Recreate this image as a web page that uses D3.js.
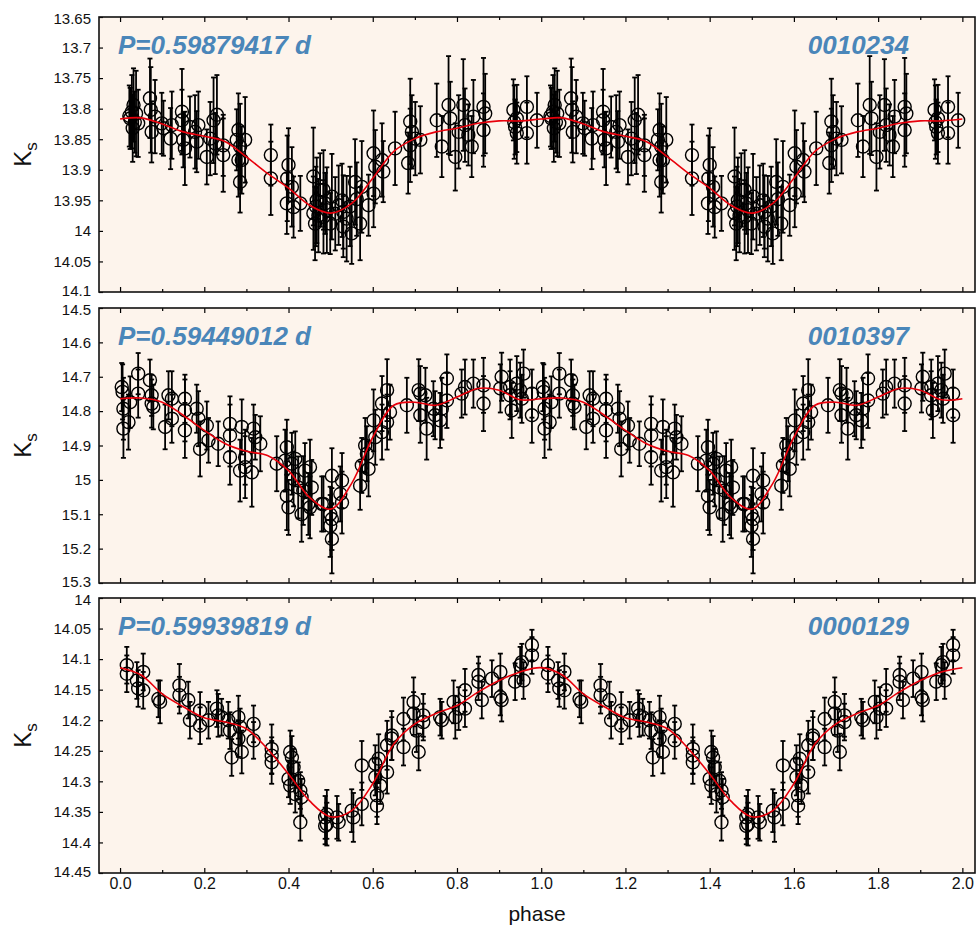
<!DOCTYPE html>
<html>
<head>
<meta charset="utf-8">
<script src="https://cdn.jsdelivr.net/npm/d3@7"></script>
<style>
  body { margin: 0; background: #fff; }
  svg text { font-family: "Liberation Sans", Arial, Helvetica, sans-serif; }
</style>
</head>
<body>
<div id="chart"></div>
<script>
// ---- data: [phase, Ks, error] for one cycle, folded copy drawn at phase+1 ----
var star1Name = '0010234', star1Period = 'P=0.59879417 d';
var star1Points = [
  [0.022,13.812,0.05],[0.024,13.816,0.05],[0.028,13.805,0.06],[0.030,13.832,0.055],[0.032,13.794,0.06],[0.035,13.822,0.05],
  [0.038,13.808,0.07],[0.043,13.824,0.055],[0.071,13.783,0.065],[0.073,13.802,0.07],[0.075,13.838,0.05],[0.083,13.813,0.06],
  [0.099,13.824,0.05],[0.103,13.832,0.045],[0.120,13.849,0.05],[0.123,13.827,0.055],[0.147,13.805,0.07],[0.147,13.819,0.05],
  [0.150,13.851,0.045],[0.154,13.865,0.06],[0.166,13.830,0.05],[0.178,13.838,0.06],[0.182,13.854,0.05],[0.186,13.827,0.055],
  [0.206,13.879,0.045],[0.214,13.849,0.06],[0.222,13.819,0.07],[0.226,13.857,0.05],[0.230,13.810,0.065],[0.245,13.860,0.05],
  [0.245,13.876,0.06],[0.277,13.851,0.05],[0.281,13.835,0.06],[0.281,13.884,0.06],[0.285,13.862,0.07],[0.285,13.920,0.05],
  [0.289,13.884,0.055],[0.297,13.851,0.07],[0.358,13.876,0.05],[0.358,13.914,0.06],[0.396,13.955,0.05],[0.397,13.914,0.07],
  [0.400,13.892,0.06],[0.408,13.928,0.065],[0.412,13.961,0.05],[0.428,13.955,0.045],[0.459,13.911,0.08],[0.459,13.971,0.06],
  [0.463,13.988,0.06],[0.465,13.960,0.065],[0.467,13.950,0.07],[0.471,13.975,0.06],[0.475,13.933,0.06],[0.483,13.933,0.065],
  [0.483,13.977,0.06],[0.487,13.955,0.05],[0.491,13.966,0.07],[0.499,13.988,0.05],[0.503,13.944,0.07],[0.511,13.972,0.06],
  [0.519,13.958,0.065],[0.527,13.950,0.06],[0.530,13.969,0.06],[0.530,13.993,0.05],[0.538,13.980,0.07],[0.546,13.960,0.065],
  [0.550,14.004,0.05],[0.558,13.920,0.07],[0.562,13.948,0.06],[0.570,13.988,0.06],[0.574,13.928,0.075],[0.590,13.958,0.05],
  [0.602,13.873,0.07],[0.602,13.939,0.055],[0.606,13.895,0.06],[0.622,13.884,0.06],[0.625,13.903,0.05],[0.653,13.865,0.06],
  [0.684,13.889,0.05],[0.689,13.821,0.07],[0.689,13.860,0.06],[0.693,13.838,0.06],[0.701,13.849,0.06],[0.713,13.851,0.055],
  [0.752,13.819,0.06],[0.764,13.862,0.05],[0.780,13.794,0.08],[0.784,13.816,0.06],[0.796,13.879,0.055],[0.804,13.838,0.06],
  [0.815,13.794,0.075],[0.819,13.827,0.06],[0.827,13.843,0.05],[0.835,13.862,0.05],[0.839,13.813,0.06],[0.863,13.797,0.08],
  [0.863,13.835,0.06],[0.867,13.808,0.065],[0.934,13.802,0.05],[0.936,13.822,0.06],[0.938,13.830,0.045],[0.942,13.816,0.055],
  [0.942,13.840,0.05],[0.966,13.797,0.05],[0.966,13.840,0.05],[0.990,13.819,0.045]
];

var star2Name = '0010397', star2Period = 'P=0.59449012 d';
var star2Points = [
  [0.004,14.730,0.07],[0.006,14.744,0.08],[0.008,14.793,0.09],[0.008,14.851,0.085],[0.020,14.832,0.08],[0.024,14.774,0.075],
  [0.043,14.691,0.06],[0.043,14.749,0.07],[0.071,14.710,0.06],[0.075,14.754,0.06],[0.075,14.778,0.07],[0.079,14.788,0.065],
  [0.107,14.846,0.065],[0.115,14.754,0.07],[0.123,14.764,0.08],[0.123,14.822,0.07],[0.154,14.764,0.07],[0.154,14.798,0.09],
  [0.154,14.856,0.08],[0.182,14.793,0.07],[0.186,14.822,0.08],[0.190,14.910,0.08],[0.206,14.842,0.07],[0.210,14.885,0.065],
  [0.233,14.895,0.065],[0.261,14.837,0.08],[0.261,14.871,0.09],[0.261,14.934,0.08],[0.285,14.973,0.09],[0.289,14.846,0.08],
  [0.297,14.934,0.08],[0.297,14.963,0.09],[0.313,14.978,0.1],[0.317,14.851,0.07],[0.321,14.876,0.065],[0.333,14.895,0.08],
  [0.372,14.953,0.08],[0.392,14.944,0.09],[0.396,14.905,0.08],[0.396,15.046,0.1],[0.400,15.080,0.08],[0.408,14.953,0.09],
  [0.412,14.997,0.08],[0.416,14.939,0.08],[0.423,15.022,0.09],[0.431,15.100,0.08],[0.435,15.031,0.1],[0.439,14.973,0.08],
  [0.447,15.070,0.09],[0.451,14.963,0.08],[0.451,15.080,0.09],[0.455,15.022,0.08],[0.479,15.070,0.08],[0.483,15.070,0.08],
  [0.499,15.100,0.08],[0.499,15.134,0.09],[0.503,14.988,0.08],[0.503,15.114,0.09],[0.503,15.172,0.1],[0.523,15.041,0.08],
  [0.527,15.002,0.08],[0.527,15.066,0.09],[0.570,15.017,0.07],[0.574,14.958,0.08],[0.582,14.900,0.08],[0.586,14.924,0.08],
  [0.590,14.968,0.08],[0.602,14.827,0.09],[0.606,14.876,0.08],[0.622,14.778,0.08],[0.622,14.861,0.08],[0.634,14.739,0.09],
  [0.634,14.832,0.08],[0.641,14.803,0.08],[0.681,14.783,0.08],[0.709,14.739,0.09],[0.713,14.749,0.08],[0.713,14.812,0.08],
  [0.725,14.754,0.08],[0.728,14.851,0.09],[0.744,14.793,0.08],[0.748,14.812,0.07],[0.760,14.827,0.08],[0.764,14.793,0.09],
  [0.776,14.705,0.07],[0.776,14.769,0.08],[0.811,14.749,0.07],[0.819,14.730,0.08],[0.839,14.720,0.07],[0.863,14.725,0.08],
  [0.863,14.778,0.08],[0.903,14.734,0.07],[0.906,14.700,0.07],[0.926,14.730,0.08],[0.926,14.754,0.07],[0.930,14.798,0.08],
  [0.942,14.720,0.08],[0.950,14.739,0.08],[0.954,14.764,0.07],[0.958,14.691,0.07],[0.978,14.749,0.07],[0.978,14.812,0.08]
];

var star3Name = '0000129', star3Period = 'P=0.59939819 d';
var star3Points = [
  [0.016,14.110,0.03],[0.016,14.124,0.03],[0.040,14.135,0.03],[0.043,14.148,0.03],[0.055,14.121,0.03],[0.055,14.151,0.03],
  [0.091,14.165,0.03],[0.095,14.170,0.035],[0.141,14.143,0.035],[0.141,14.159,0.03],[0.162,14.167,0.03],[0.166,14.200,0.03],
  [0.190,14.184,0.03],[0.190,14.209,0.03],[0.210,14.200,0.03],[0.230,14.181,0.03],[0.233,14.192,0.035],[0.241,14.195,0.03],
  [0.257,14.200,0.03],[0.261,14.217,0.03],[0.265,14.261,0.03],[0.281,14.195,0.035],[0.281,14.230,0.03],[0.285,14.211,0.03],
  [0.289,14.252,0.035],[0.317,14.206,0.03],[0.317,14.233,0.03],[0.360,14.247,0.04],[0.360,14.258,0.03],[0.360,14.269,0.035],
  [0.400,14.296,0.03],[0.404,14.252,0.035],[0.404,14.307,0.03],[0.408,14.261,0.035],[0.412,14.277,0.03],[0.416,14.321,0.03],
  [0.423,14.299,0.03],[0.428,14.315,0.03],[0.428,14.367,0.03],[0.431,14.326,0.03],[0.487,14.359,0.035],[0.487,14.373,0.03],
  [0.491,14.354,0.04],[0.491,14.370,0.035],[0.515,14.359,0.035],[0.519,14.367,0.03],[0.550,14.348,0.035],[0.554,14.359,0.04],
  [0.574,14.274,0.04],[0.574,14.337,0.035],[0.606,14.271,0.03],[0.606,14.293,0.03],[0.610,14.323,0.035],[0.610,14.340,0.03],
  [0.614,14.263,0.04],[0.618,14.307,0.03],[0.634,14.241,0.04],[0.634,14.285,0.035],[0.645,14.225,0.04],[0.645,14.230,0.035],
  [0.673,14.198,0.035],[0.673,14.244,0.03],[0.697,14.170,0.04],[0.697,14.189,0.035],[0.704,14.217,0.035],[0.709,14.252,0.03],
  [0.720,14.192,0.035],[0.720,14.203,0.03],[0.760,14.195,0.03],[0.764,14.200,0.03],[0.792,14.170,0.035],[0.796,14.195,0.035],
  [0.804,14.181,0.035],[0.819,14.151,0.035],[0.819,14.181,0.03],[0.851,14.126,0.03],[0.851,14.137,0.03],[0.859,14.167,0.03],
  [0.883,14.132,0.03],[0.903,14.121,0.03],[0.903,14.162,0.03],[0.906,14.167,0.035],[0.938,14.137,0.03],[0.950,14.110,0.03],
  [0.954,14.105,0.03],[0.958,14.135,0.03],[0.978,14.077,0.025],[0.978,14.094,0.03]
];

// fitted light curves, read every 0.05 in phase
var fitPhase = [0,0.05,0.1,0.15,0.2,0.25,0.3,0.35,0.4,0.45,0.5,0.55,0.6,0.65,0.7,0.75,0.8,0.85,0.9,0.95,1.0];
var star1Fit = [13.817,13.815,13.825,13.838,13.845,13.854,13.879,13.906,13.930,13.958,13.971,13.955,13.914,13.870,13.849,13.838,13.832,13.824,13.820,13.820,13.817];
var star2Fit = [14.764,14.762,14.774,14.812,14.856,14.895,14.917,14.929,14.973,15.051,15.085,15.010,14.876,14.783,14.774,14.783,14.759,14.734,14.739,14.767,14.764];
var star3Fit = [14.114,14.126,14.157,14.178,14.196,14.203,14.214,14.247,14.288,14.332,14.358,14.348,14.304,14.239,14.206,14.189,14.176,14.154,14.135,14.121,14.114];

// axis ticks
var phaseTicks = [0,0.2,0.4,0.6,0.8,1.0,1.2,1.4,1.6,1.8,2.0];
var phaseMinorTicks = [0.1,0.3,0.5,0.7,0.9,1.1,1.3,1.5,1.7,1.9];
var star1Ticks = [13.65,13.7,13.75,13.8,13.85,13.9,13.95,14,14.05,14.1];
var star2Ticks = [14.5,14.6,14.7,14.8,14.9,15,15.1,15.2,15.3];
var star3Ticks = [14,14.05,14.1,14.15,14.2,14.25,14.3,14.35,14.4,14.45];

var panels = [
  { name: star1Name, period: star1Period, points: star1Points, fit: star1Fit, ticks: star1Ticks },
  { name: star2Name, period: star2Period, points: star2Points, fit: star2Fit, ticks: star2Ticks },
  { name: star3Name, period: star3Period, points: star3Points, fit: star3Fit, ticks: star3Ticks }
];

// ---- layout ----
var W = 977, H = 927;
var left = 99, right = 975, panelH = 275, tops = [17, 308, 598];

var svg = d3.select('#chart').append('svg').attr('width', W).attr('height', H);

var x = d3.scaleLinear().domain([-0.05, 2.03]).range([left, right]);

function fold(arr) {
  return arr.concat(arr.map(d => [d[0] + 1].concat(d.slice(1))));
}

panels.forEach(function (p, i) {
  var top = tops[i], bottom = top + panelH;
  var y = d3.scaleLinear().domain([p.ticks[0], p.ticks[p.ticks.length - 1]]).range([top, bottom]);
  var g = svg.append('g');

  g.append('rect').attr('x', left).attr('y', top).attr('width', right - left).attr('height', panelH)
    .attr('fill', '#fdf4ec');

  var clipId = 'clip' + i;
  svg.append('clipPath').attr('id', clipId).append('rect')
    .attr('x', left).attr('y', top).attr('width', right - left).attr('height', panelH);
  var plot = g.append('g').attr('clip-path', 'url(#' + clipId + ')');

  var pts = fold(p.points);

  // error bars
  var eb = plot.append('g').attr('stroke', '#000').attr('stroke-width', 1.8).attr('fill', 'none');
  eb.selectAll('line.bar').data(pts).enter().append('line').attr('class', 'bar')
    .attr('x1', d => x(d[0])).attr('x2', d => x(d[0]))
    .attr('y1', d => y(d[1] - d[2])).attr('y2', d => y(d[1] + d[2]));
  eb.selectAll('line.capt').data(pts).enter().append('line').attr('class', 'capt')
    .attr('x1', d => x(d[0]) - 2.5).attr('x2', d => x(d[0]) + 2.5)
    .attr('y1', d => y(d[1] - d[2])).attr('y2', d => y(d[1] - d[2]));
  eb.selectAll('line.capb').data(pts).enter().append('line').attr('class', 'capb')
    .attr('x1', d => x(d[0]) - 2.5).attr('x2', d => x(d[0]) + 2.5)
    .attr('y1', d => y(d[1] + d[2])).attr('y2', d => y(d[1] + d[2]));

  // circles
  plot.append('g').selectAll('circle').data(pts).enter().append('circle')
    .attr('cx', d => x(d[0])).attr('cy', d => y(d[1])).attr('r', 6.5)
    .attr('fill', 'none').attr('stroke', '#000').attr('stroke-width', 1.4);

  // fit
  var fitPts = fitPhase.map((ph, k) => [ph, p.fit[k]]);
  fitPts = fitPts.concat(fitPhase.slice(1).map((ph, k) => [ph + 1, p.fit[k + 1]]));
  var line = d3.line().x(d => x(d[0])).y(d => y(d[1])).curve(d3.curveCatmullRom);
  plot.append('path').datum(fitPts).attr('d', line)
    .attr('fill', 'none').attr('stroke', '#e8000b').attr('stroke-width', 1.6);

  // axes
  var yAxis = d3.axisLeft(y).tickValues(p.ticks).tickSize(-4).tickPadding(8)
    .tickFormat(d => String(+d.toFixed(2)));
  var ya = g.append('g').attr('transform', 'translate(' + left + ',0)').call(yAxis);
  ya.select('.domain').remove();
  ya.selectAll('text').attr('font-size', 15).attr('fill', '#111');
  // end labels of neighbouring panels sit close together; nudge them apart a little
  var last = p.ticks.length - 1;
  ya.selectAll('.tick').filter((d, k) => k === 0).select('text').attr('dy', '0.45em');
  ya.selectAll('.tick').filter((d, k) => k === last).select('text').attr('dy', '0.2em');

  [[d3.axisTop, top], [d3.axisBottom, bottom]].forEach(function (a) {
    var major = g.append('g').attr('transform', 'translate(0,' + a[1] + ')')
      .call(a[0](x).tickValues(phaseTicks).tickSize(-5).tickPadding(5)
        .tickFormat(a[0] === d3.axisBottom && i === 2 ? d3.format('.1f') : ''));
    major.select('.domain').remove();
    major.selectAll('text').attr('font-size', 16).attr('fill', '#111');
    var minor = g.append('g').attr('transform', 'translate(0,' + a[1] + ')')
      .call(a[0](x).tickValues(phaseMinorTicks).tickSize(-3).tickFormat(''));
    minor.select('.domain').remove();
  });
  g.selectAll('.tick line').attr('stroke-width', 1.2);

  g.append('rect').attr('x', left).attr('y', top).attr('width', right - left).attr('height', panelH)
    .attr('fill', 'none').attr('stroke', '#111').attr('stroke-width', 1.6);

  // labels
  g.append('text').attr('x', 118).attr('y', top + 37).text(p.period)
    .attr('font-size', 26).attr('font-weight', 'bold').attr('font-style', 'italic').attr('fill', '#4a86b9');
  g.append('text').attr('x', 909).attr('y', top + 37).attr('text-anchor', 'end').text(p.name)
    .attr('font-size', 26).attr('font-weight', 'bold').attr('font-style', 'italic').attr('fill', '#4a86b9');

  var kl = g.append('text').attr('transform', 'translate(31,' + (top + panelH / 2) + ') rotate(-90)')
    .attr('text-anchor', 'middle').attr('font-size', 24).attr('fill', '#111');
  kl.append('tspan').text('K');
  kl.append('tspan').text('s').attr('font-size', 17).attr('dy', 6);
});

svg.append('text').attr('x', (left + right) / 2).attr('y', 921).attr('text-anchor', 'middle')
  .attr('font-size', 21).attr('fill', '#111').text('phase');
</script>
</body>
</html>
